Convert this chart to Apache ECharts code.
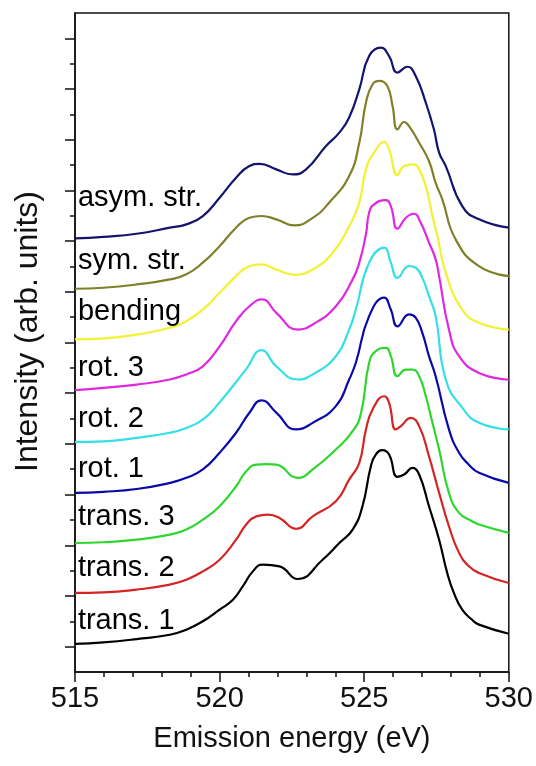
<!DOCTYPE html>
<html>
<head>
<meta charset="utf-8">
<script src="https://cdn.jsdelivr.net/npm/echarts@6/dist/echarts.min.js"></script>
<style>
html,body{margin:0;padding:0;background:#fff;}
#chart{width:536px;height:766px;}
</style>
</head>
<body>
<div id="chart"></div>
<script>
// Emission energy (eV) / intensity (arb. units, stacked offsets) pairs
const trans1 = [[515,1.11],[515.98,1.17],[517.13,1.30],[518.28,1.47],[518.85,1.67],[519.42,2.00],[520.0,2.46],[520.46,2.85],[520.80,3.38],[521.15,3.97],[521.49,4.24],[522.07,4.17],[522.70,3.67],[523.56,4.43],[524.14,5.09],[524.60,5.62],[524.94,6.54],[525.23,8.12],[525.40,8.58],[525.63,8.75],[525.86,8.58],[526.15,7.70],[526.38,7.79],[526.67,8.05],[526.90,7.79],[527.24,6.54],[527.59,5.22],[527.87,3.91],[528.10,3.12],[528.39,2.46],[528.73,2.06],[528.97,1.87],[530.0,1.51]];
const trans2 = [[515,3.12],[515.98,3.14],[517.13,3.25],[518.28,3.45],[518.85,3.64],[519.42,3.97],[520.0,4.43],[520.57,5.22],[520.92,5.82],[521.27,6.14],[521.67,6.21],[522.07,6.08],[522.64,5.65],[523.22,6.14],[524.02,6.74],[524.48,7.59],[524.83,8.25],[525.06,9.57],[525.29,10.36],[525.69,10.88],[525.86,10.62],[526.09,9.57],[526.27,9.70],[526.61,10.03],[526.90,9.70],[527.24,8.51],[527.59,7.07],[527.93,5.75],[528.28,4.70],[528.62,4.17],[528.97,3.91],[530.0,3.51]];
const trans3 = [[515,5.09],[515.98,5.12],[517.13,5.22],[518.28,5.42],[518.85,5.62],[519.42,6.01],[520.0,6.54],[520.57,7.33],[520.92,7.92],[521.27,8.18],[521.61,8.20],[521.96,8.18],[522.70,7.66],[523.22,7.99],[524.02,8.78],[524.60,9.50],[524.89,10.22],[525.17,12.20],[525.40,12.66],[525.75,12.79],[525.92,12.46],[526.15,11.67],[526.44,11.93],[526.67,11.93],[526.90,11.67],[527.13,10.88],[527.36,9.83],[527.59,8.78],[527.93,7.07],[528.28,6.28],[528.73,5.95],[528.97,5.82],[530.0,5.49]];
const rot1 = [[515,7.07],[515.98,7.11],[517.13,7.22],[518.28,7.46],[518.85,7.66],[519.42,7.99],[520.0,8.65],[520.57,9.44],[521.03,10.23],[521.45,10.72],[521.96,10.23],[522.64,9.57],[523.22,9.83],[524.02,10.49],[524.48,11.54],[524.71,12.20],[525.17,14.04],[525.69,14.77],[525.92,14.30],[526.15,13.64],[526.55,14.11],[526.78,13.98],[527.01,13.38],[527.24,12.46],[527.47,11.67],[527.93,9.57],[528.28,8.65],[528.62,8.18],[528.97,7.86],[530.0,7.46]];
const rot2 = [[515,9.08],[515.98,9.10],[517.13,9.24],[518.28,9.44],[518.85,9.63],[519.42,9.96],[519.89,10.49],[520.92,11.95],[521.45,12.70],[521.96,12.06],[522.70,11.54],[523.22,11.74],[524.02,12.46],[524.48,13.51],[524.71,14.30],[525.17,16.15],[525.69,16.74],[525.92,16.15],[526.15,15.55],[526.55,16.01],[526.78,15.95],[527.01,15.55],[527.24,14.83],[527.47,14.04],[527.82,11.54],[528.39,10.43],[528.97,9.83],[530.0,9.57]];
const rot3 = [[515,11.12],[515.98,11.21],[517.13,11.34],[518.28,11.54],[518.85,11.74],[519.42,12.06],[520.0,12.85],[520.57,13.84],[521.03,14.43],[521.47,14.70],[521.96,14.17],[522.70,13.51],[523.22,13.71],[524.02,14.43],[524.60,15.49],[524.83,16.15],[525.06,17.27],[525.17,18.12],[525.34,18.45],[525.75,18.62],[525.92,18.38],[526.15,17.49],[526.44,17.92],[526.72,18.08],[526.95,17.73],[527.24,16.94],[527.47,16.28],[527.59,15.62],[527.93,13.51],[528.28,12.46],[528.97,11.80],[530.0,11.54]];
const bending = [[515,13.12],[515.98,13.16],[517.13,13.31],[518.28,13.58],[518.85,13.84],[519.42,14.30],[520.0,14.96],[520.57,15.62],[521.03,16.01],[521.44,16.08],[521.96,15.88],[522.59,15.68],[523.22,15.88],[523.91,16.54],[524.48,17.59],[524.83,18.52],[525.06,19.83],[525.34,20.49],[525.69,20.91],[525.86,20.62],[526.15,19.61],[526.38,19.96],[526.72,20.03],[526.90,19.83],[527.13,19.17],[527.36,17.99],[527.53,17.20],[527.82,15.75],[528.39,14.30],[528.97,13.78],[530.0,13.51]];
const symStr = [[515,15.12],[515.98,15.16],[517.13,15.29],[518.28,15.49],[518.85,15.69],[519.42,16.15],[520.0,16.80],[520.57,17.53],[521.03,17.92],[521.44,17.99],[521.96,17.86],[522.59,17.62],[523.22,17.92],[523.79,18.52],[524.48,19.57],[524.83,20.88],[525.06,22.46],[525.29,23.19],[525.52,23.32],[525.80,23.12],[525.98,22.33],[526.15,21.41],[526.38,21.70],[526.55,21.54],[526.90,20.88],[527.24,20.16],[527.47,19.30],[527.70,18.65],[528.16,17.07],[528.97,16.01],[530.0,15.62]];
const asymStr = [[515,17.11],[515.98,17.17],[517.13,17.29],[518.28,17.53],[518.85,17.66],[519.42,17.99],[520.0,18.71],[520.57,19.50],[521.03,19.96],[521.38,20.05],[521.96,19.83],[522.53,19.63],[522.99,19.83],[523.68,20.75],[524.14,21.28],[524.48,21.88],[524.83,22.99],[525.17,24.30],[525.58,24.63],[525.86,24.30],[526.15,23.65],[526.49,23.88],[526.78,23.51],[527.13,22.46],[527.41,21.41],[527.59,20.49],[527.82,19.96],[528.39,18.38],[528.97,17.86],[530.0,17.53]];

const seriesNames = ['trans. 1','trans. 2','trans. 3','rot. 1','rot. 2','rot. 3','bending','sym. str.','asym. str.'];
const seriesData = [trans1, trans2, trans3, rot1, rot2, rot3, bending, symStr, asymStr];
const seriesColors = ['#000000','#d42525','#2ed62e','#0a0aa8','#33e0e6','#e028e0','#f2f230','#80802a','#14146e'];

// Text labels inside the plot (x, y in data units)
const labelX = 515.1;
const labelY = [2.0, 4.1, 6.1, 8.0, 10.0, 12.0, 14.2, 16.2, 18.7];

const xTicks = [515, 520, 525, 530];
const yMajorTicks = [1,3,5,7,9,11,13,15,17,19,21,23,25];
const yMinorTicks = [2,4,6,8,10,12,14,16,18,20,22,24];

const FONT = 'Liberation Sans, Arial, sans-serif';
const chart = echarts.init(document.getElementById('chart'), null, {renderer: 'canvas'});

const series = seriesData.map((d, i) => ({
  name: seriesNames[i],
  type: 'line',
  data: d,
  xAxisIndex: 0,
  yAxisIndex: 0,
  showSymbol: false,
  smooth: 0.5,
  lineStyle: {color: seriesColors[i], width: 2.2},
  itemStyle: {color: seriesColors[i]},
  z: 3 + i,
  animation: false
}));

series.push({
  type: 'scatter',
  xAxisIndex: 0,
  yAxisIndex: 0,
  symbolSize: 0,
  silent: true,
  animation: false,
  itemStyle: {opacity: 1},
  data: seriesNames.map((n, i) => ({name: n, value: [labelX, labelY[i]]})),
  label: {
    show: true,
    position: 'right',
    distance: 0,
    opacity: 1,
    formatter: p => p.name,
    fontFamily: FONT,
    fontSize: 29,
    color: '#000'
  },
  z: 20
});

chart.setOption({
  backgroundColor: '#fff',
  animation: false,
  grid: {left: 75, right: 26, top: 13, bottom: 94, show: true, borderColor: '#111', borderWidth: 1.5, backgroundColor: 'transparent'},
  xAxis: [{
    type: 'value',
    min: xTicks[0],
    max: xTicks[xTicks.length - 1],
    interval: 5,
    name: 'Emission energy (eV)',
    nameLocation: 'middle',
    nameGap: 52,
    nameTextStyle: {fontFamily: FONT, fontSize: 29, color: '#111'},
    axisLine: {show: true, lineStyle: {color: '#111', width: 1.5}},
    axisTick: {show: true, inside: false, length: 10, lineStyle: {color: '#111', width: 1.5}},
    minorTick: {show: true, splitNumber: 5, length: 5, lineStyle: {color: '#111', width: 1.5}},
    axisLabel: {fontFamily: FONT, fontSize: 29, color: '#111', margin: 12},
    splitLine: {show: false},
    minorSplitLine: {show: false}
  }],
  yAxis: [{
    type: 'value',
    min: 0,
    max: 26,
    position: 'left',
    name: 'Intensity (arb. units)',
    nameLocation: 'middle',
    nameRotate: 90,
    nameGap: 31,
    nameTextStyle: {fontFamily: FONT, fontSize: 32, color: '#111', padding: [0, 0, 0, 22]},
    axisLine: {show: true, lineStyle: {color: '#111', width: 1.5}},
    axisTick: {show: true, inside: false, length: 10, customValues: yMajorTicks, lineStyle: {color: '#111', width: 1.5}},
    axisLabel: {show: false},
    splitLine: {show: false}
  }, {
    type: 'value',
    min: 0,
    max: 26,
    position: 'left',
    offset: 0,
    axisLine: {show: false},
    axisTick: {show: true, inside: false, length: 5, customValues: yMinorTicks, lineStyle: {color: '#111', width: 1.5}},
    axisLabel: {show: false},
    splitLine: {show: false}
  }],
  series: series
});
</script>
</body>
</html>
